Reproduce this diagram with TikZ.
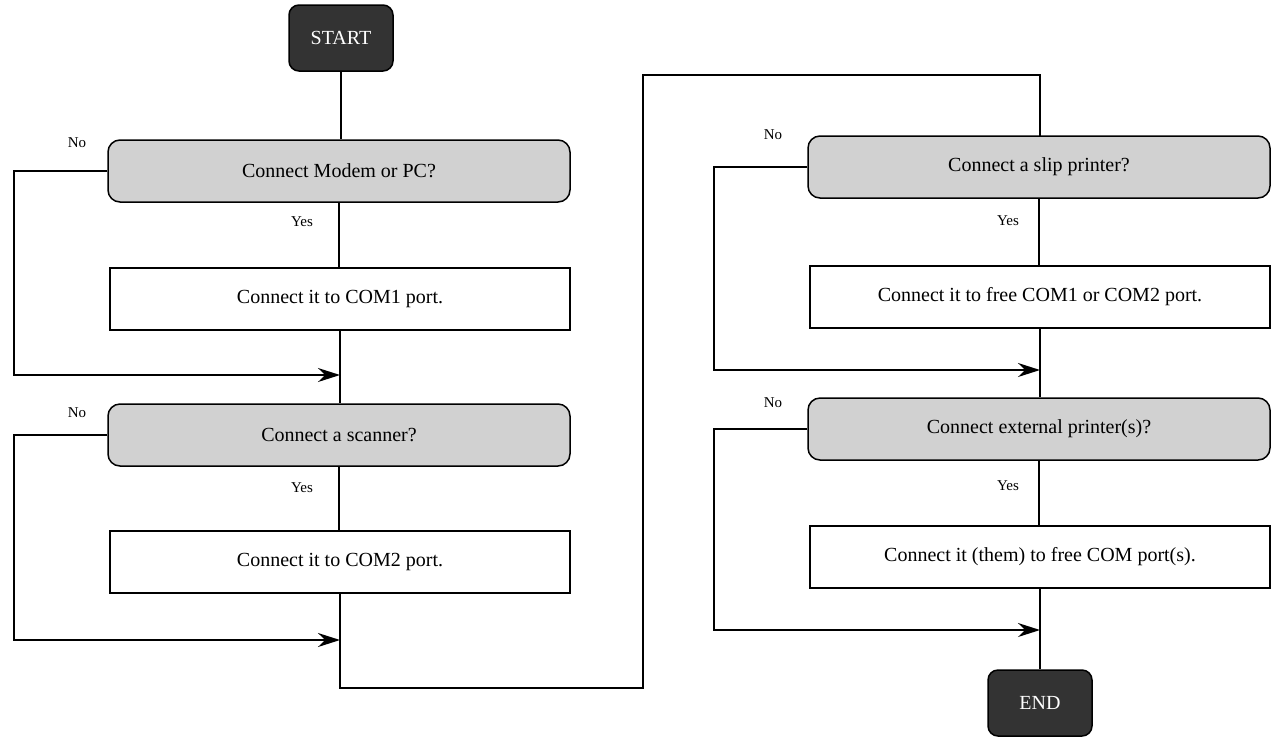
\documentclass[tikz,border=0pt]{standalone}
\usepackage{fontspec}
\setmainfont{Liberation Serif}
\usetikzlibrary{arrows.meta}
\begin{document}
\begin{tikzpicture}[x=1pt,y=-1pt,
  base/.style={draw=black,line width=1.5pt,minimum height=62pt,font=\fontsize{20}{24}\selectfont},
  term/.style={base,rounded corners=10pt,fill=black!80,text=white,minimum width=104pt,minimum height=66pt},
  dec/.style={base,rounded corners=12pt,fill=black!18,minimum width=462pt},
  proc/.style={base,fill=white,minimum width=460pt},
  lbl/.style={font=\fontsize{15}{18}\selectfont},
  ln/.style={line width=1.5pt},
  arr/.style={ln,-{Stealth[length=22pt,width=14pt]}}]
\useasboundingbox (0,0) rectangle (1284,740);
\node[term] (start) at (341,38) {START};
\node[dec] (d1) at (339,171) {Connect Modem or PC?};
\node[proc] (p1) at (340,299) {Connect it to COM1 port.};
\node[dec] (d2) at (339,435) {Connect a scanner?};
\node[proc] (p2) at (340,562) {Connect it to COM2 port.};
\node[dec] (d3) at (1039,167) {Connect a slip printer?};
\node[proc] (p3) at (1040,297) {Connect it to free COM1 or COM2 port.};
\node[dec] (d4) at (1039,429) {Connect external printer(s)?};
\node[proc] (p4) at (1040,557) {Connect it (them) to free COM port(s).};
\node[term] (end) at (1040,703) {END};
\node[lbl] (n1) at (77,143) {No};
\node[lbl] (y1) at (302,222) {Yes};
\node[lbl] (n2) at (77,413) {No};
\node[lbl] (y2) at (302,488) {Yes};
\node[lbl] (n3) at (773,135) {No};
\node[lbl] (y3) at (1008,221) {Yes};
\node[lbl] (n4) at (773,403) {No};
\node[lbl] (y4) at (1008,486) {Yes};
\coordinate (j1) at (340,375);
\coordinate (j2) at (340,640);
\coordinate (j3) at (1040,370);
\coordinate (j4) at (1040,630);
\draw[ln] (start) -- (start |- d1.north);
\draw[ln] (d1) -- (d1 |- p1.north);
\draw[ln] (p1) -- (j1) -- (j1 |- d2.north);
\draw[arr] (d1.west) -- (14,171) -- (14,375) -- (j1);
\draw[ln] (d2) -- (d2 |- p2.north);
\draw[arr] (d2.west) -- (14,435) -- (14,640) -- (j2);
\draw[ln] (p2) -- (j2) -- (340,688) -- (643,688) -- (643,75) -- (1040,75) -- (1040,136);
\draw[ln] (d3) -- (d3 |- p3.north);
\draw[ln] (p3) -- (j3) -- (j3 |- d4.north);
\draw[arr] (d3.west) -- (714,167) -- (714,370) -- (j3);
\draw[ln] (d4) -- (d4 |- p4.north);
\draw[arr] (d4.west) -- (714,429) -- (714,630) -- (j4);
\draw[ln] (p4) -- (j4) -- (end);
\end{tikzpicture}
\end{document}
